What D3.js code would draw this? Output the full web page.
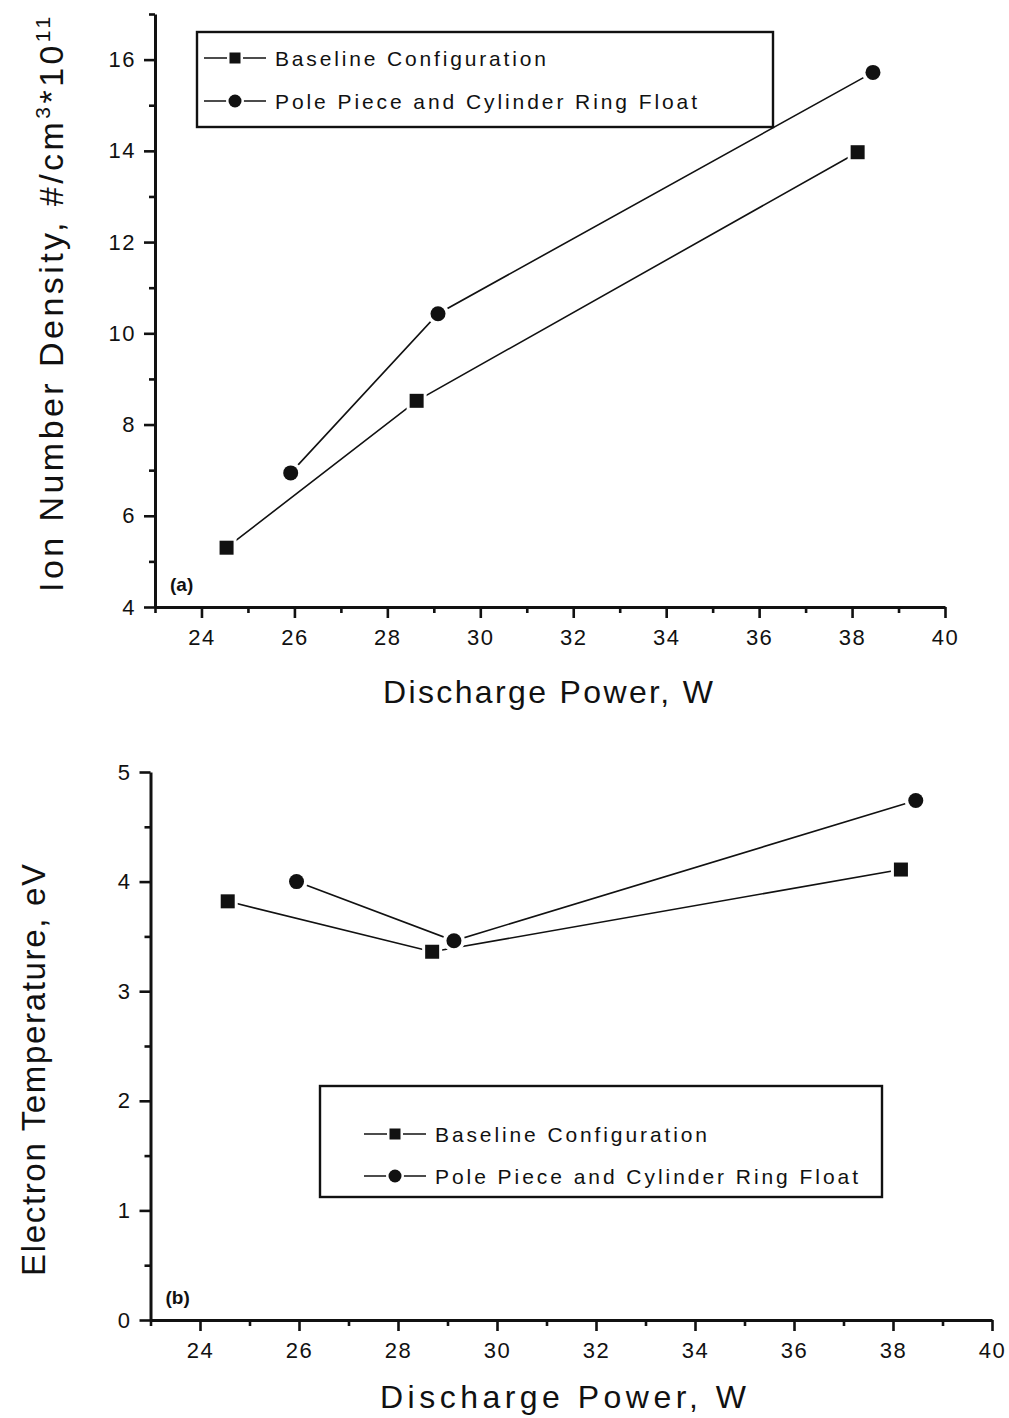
<!DOCTYPE html>
<html><head><meta charset="utf-8">
<script src="https://cdn.jsdelivr.net/npm/d3@7"></script>
<style>
body{margin:0;background:#fff}
svg{display:block}
text{font-family:"Liberation Sans",Arial,Helvetica,sans-serif;fill:#111}
</style>
</head><body>
<svg id="c" width="1009" height="1418"></svg>
<script>
// ---------- data ----------
const seriesNames = ["Baseline Configuration", "Pole Piece and Cylinder Ring Float"];
// panel (a): ion number density
const powerBaselineA = [24.54, 28.63, 38.12];
const densityBaseline = [5.30, 8.52, 13.97];
const powerFloatA = [25.92, 29.09, 38.45];
const densityFloat = [6.94, 10.43, 15.72];
// panel (b): electron temperature
const powerBaselineB = [24.56, 28.69, 38.16];
const tempBaseline = [3.82, 3.36, 4.11];
const powerFloatB = [25.95, 29.13, 38.46];
const tempFloat = [4.00, 3.46, 4.74];
// ticks
const xMajor = [24, 26, 28, 30, 32, 34, 36, 38, 40];
const xMinor = [23, 25, 27, 29, 31, 33, 35, 37, 39];
const yMajorA = [4, 6, 8, 10, 12, 14, 16];
const yMinorA = [5, 7, 9, 11, 13, 15, 17];
const yMajorB = [0, 1, 2, 3, 4, 5];
const yMinorB = [0.5, 1.5, 2.5, 3.5, 4.5];

const svg = d3.select("#c");
const INK = "#111";

function fitText(sel, target) {
  const node = sel.node();
  const n = node.getNumberOfChars();
  const len = node.getComputedTextLength();
  sel.attr("letter-spacing", ((target - len) / Math.max(1, n - 1)).toFixed(2));
}

function drawPanel(cfg) {
  const g = svg.append("g");
  const x = d3.scaleLinear().domain([23, 40]).range(cfg.xr);
  const y = d3.scaleLinear().domain(cfg.yd).range(cfg.yr);

  // x axis
  const xa = g.append("g").attr("transform", `translate(0,${cfg.yr[0]})`);
  xa.call(d3.axisBottom(x).tickValues(xMajor).tickSize(11).tickSizeOuter(0).tickPadding(11).tickFormat(d3.format("d")));
  xa.append("g").call(d3.axisBottom(x).tickValues(xMinor).tickSize(6).tickSizeOuter(0).tickFormat(""))
    .select(".domain").remove();
  // y axis
  const ya = g.append("g").attr("transform", `translate(${cfg.xr[0]},0)`);
  ya.call(d3.axisLeft(y).tickValues(cfg.yMajor).tickSize(11).tickSizeOuter(0).tickPadding(8).tickFormat(d3.format("d")));
  ya.append("g").call(d3.axisLeft(y).tickValues(cfg.yMinor).tickSize(6).tickSizeOuter(0).tickFormat(""))
    .select(".domain").remove();

  g.selectAll(".domain").attr("stroke", INK).attr("stroke-width", 3);
  g.selectAll(".tick line").attr("stroke", INK).attr("stroke-width", 2.6);
  g.selectAll(".tick text").attr("font-size", 22).attr("letter-spacing", 1.5)
    .attr("font-family", '"Liberation Sans",Arial,sans-serif').attr("fill", INK);

  // series
  const line = d3.line().x(d => x(d[0])).y(d => y(d[1]));
  const series = [
    { xs: cfg.px[0], ys: cfg.py[0], shape: "square" },
    { xs: cfg.px[1], ys: cfg.py[1], shape: "circle" }
  ];
  series.forEach(s => {
    const pts = s.xs.map((v, i) => [v, s.ys[i]]);
    g.append("path").datum(pts).attr("d", line).attr("fill", "none")
      .attr("stroke", INK).attr("stroke-width", 1.6);
  });
  series.forEach(s => {
    const pts = s.xs.map((v, i) => [v, s.ys[i]]);
    pts.forEach(p => {
      const cx = x(p[0]), cy = y(p[1]);
      if (s.shape === "square") {
        g.append("rect").attr("x", cx - 10).attr("y", cy - 10).attr("width", 20).attr("height", 20).attr("fill", "#fff");
        g.append("rect").attr("x", cx - 7).attr("y", cy - 7).attr("width", 14).attr("height", 14).attr("fill", INK);
      } else {
        g.append("circle").attr("cx", cx).attr("cy", cy).attr("r", 11).attr("fill", "#fff");
        g.append("circle").attr("cx", cx).attr("cy", cy).attr("r", 7.5).attr("fill", INK);
      }
    });
  });

  // panel letter
  g.append("text").attr("x", cfg.xr[0] + 15).attr("y", cfg.yr[0] - 16)
    .attr("font-size", 19).attr("font-weight", "bold").text(cfg.letter);

  // x title
  const xt = g.append("text").attr("x", cfg.xTitle[0]).attr("y", cfg.xTitle[1])
    .attr("font-size", 32).text("Discharge Power, W");
  fitText(xt, cfg.xTitle[2]);

  // legend
  const L = cfg.legend;
  g.append("rect").attr("x", L.x).attr("y", L.y).attr("width", L.w).attr("height", L.h)
    .attr("fill", "#fff").attr("stroke", INK).attr("stroke-width", 2.4);
  seriesNames.forEach((name, i) => {
    const ry = L.rows[i];
    g.append("line").attr("x1", L.sx0).attr("x2", L.sx1).attr("y1", ry).attr("y2", ry)
      .attr("stroke", INK).attr("stroke-width", 1.6);
    const mx = (L.sx0 + L.sx1) / 2;
    if (i === 0) {
      g.append("rect").attr("x", mx - 8).attr("y", ry - 8).attr("width", 16).attr("height", 16).attr("fill", "#fff");
      g.append("rect").attr("x", mx - 5.5).attr("y", ry - 5.5).attr("width", 11).attr("height", 11).attr("fill", INK);
    } else {
      g.append("circle").attr("cx", mx).attr("cy", ry).attr("r", 9).attr("fill", "#fff");
      g.append("circle").attr("cx", mx).attr("cy", ry).attr("r", 6.5).attr("fill", INK);
    }
    const t = g.append("text").attr("x", L.tx).attr("y", ry + 7.5).attr("font-size", 21).text(name);
    fitText(t, L.tw[i]);
  });
  return g;
}

// panel (a)
const gA = drawPanel({
  xr: [155, 945], yd: [4, 17], yr: [607, 14],
  yMajor: yMajorA, yMinor: yMinorA,
  px: [powerBaselineA, powerFloatA], py: [densityBaseline, densityFloat],
  letter: "(a)",
  xTitle: [383, 703, 330],
  legend: { x: 197, y: 32, w: 576, h: 95, rows: [58, 101], sx0: 204, sx1: 266, tx: 275, tw: [271, 422] }
});
// y title (a)
const ytA = gA.append("text").attr("transform", "translate(63,592) rotate(-90)").attr("font-size", 34);
ytA.append("tspan").text("Ion Number Density, #/cm");
ytA.append("tspan").attr("dy", -13).attr("font-size", 21).text("3");
ytA.append("tspan").attr("dy", 13).text("*10");
ytA.append("tspan").attr("dy", -13).attr("font-size", 21).text("11");
fitText(ytA, 575);

// panel (b)
const gB = drawPanel({
  xr: [150.5, 992], yd: [0, 5], yr: [1320, 772],
  yMajor: yMajorB, yMinor: yMinorB,
  px: [powerBaselineB, powerFloatB], py: [tempBaseline, tempFloat],
  letter: "(b)",
  xTitle: [380, 1408, 366],
  legend: { x: 320, y: 1086, w: 562, h: 111, rows: [1134, 1176], sx0: 364, sx1: 426, tx: 435, tw: [272, 423] }
});
const ytB = gB.append("text").attr("transform", "translate(45,1276) rotate(-90)").attr("font-size", 33)
  .text("Electron Temperature, eV");
fitText(ytB, 412);
</script>
</body></html>
